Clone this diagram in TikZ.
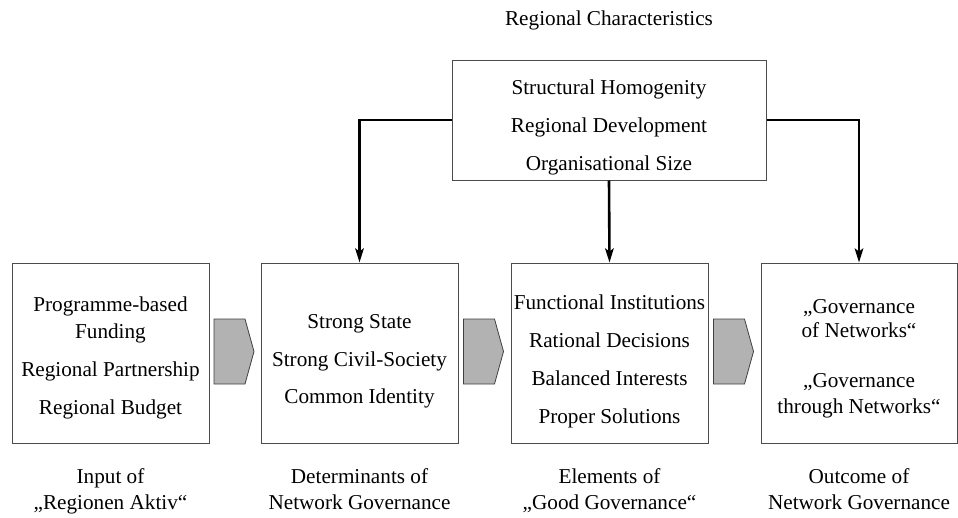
\documentclass[tikz,border=0pt]{standalone}
\usepackage{fontspec}
\setmainfont{Liberation Serif}
\usetikzlibrary{arrows.meta}
\begin{document}
\begin{tikzpicture}[x=1pt,y=-1pt,
  box/.style={draw=black!70, line width=1pt, minimum width=197pt, minimum height=180pt, inner sep=0pt},
  txt/.style={anchor=base, inner sep=0pt, font=\fontsize{21.2}{25}\selectfont},
  conn/.style={draw=black, line width=2.6pt, -{Stealth[length=14pt,width=8.5pt,inset=3pt]}},
  chev/.style={draw=black!75, line width=0.8pt, fill=black!30, line join=miter}]
\fill[white] (0,0) rectangle (958,517);
\useasboundingbox (0,0) rectangle (958,517);

% boxes
\node[box, minimum width=314pt, minimum height=120pt] (top) at (609,120) {};
\node[box] (b1) at (110.5,353) {};
\node[box] (b2) at (359.5,353) {};
\node[box] (b3) at (609.5,353) {};
\node[box, minimum width=196pt] (b4) at (859,353) {};

% connectors
\draw[conn] (top.west) -| (b2.north);
\draw[conn] (top.south) -- (b3.north);
\draw[conn] (top.east) -| (b4.north);

% chevrons
\foreach \dx in {0,249.5,499.5}{
  \draw[chev] (214+\dx,319) -- (245+\dx,319) -- (254+\dx,351.5) -- (245+\dx,384) -- (214+\dx,384) -- cycle;
}

% texts
\node[txt] (rc) at (609,25) {Regional Characteristics};
\node[txt] (t1) at (609,94) {Structural Homogenity};
\node[txt] (t2) at (609,132) {Regional Development};
\node[txt] (t3) at (609,170) {Organisational Size};

\node[txt] (a1) at (110.5,311) {Programme-based};
\node[txt] (a2) at (110.5,338) {Funding};
\node[txt] (a3) at (110.5,376) {Regional Partnership};
\node[txt] (a4) at (110.5,414) {Regional Budget};

\node[txt] (d1) at (359.5,328) {Strong State};
\node[txt] (d2) at (359.5,366) {Strong Civil-Society};
\node[txt] (d3) at (359.5,403) {Common Identity};

\node[txt] (e1) at (609.5,309) {Functional Institutions};
\node[txt] (e2) at (609.5,347) {Rational Decisions};
\node[txt] (e3) at (609.5,385) {Balanced Interests};
\node[txt] (e4) at (609.5,423) {Proper Solutions};

\node[txt] (o1) at (859,313) {„Governance};
\node[txt] (o2) at (859,337) {of Networks“};
\node[txt] (o3) at (859,387) {„Governance};
\node[txt] (o4) at (859,413) {through Networks“};

\node[txt] (l1a) at (110.5,483) {Input of};
\node[txt] (l1b) at (110.5,509) {„Regionen Aktiv“};
\node[txt] (l2a) at (359.5,483) {Determinants of};
\node[txt] (l2b) at (359.5,509) {Network Governance};
\node[txt] (l3a) at (609.5,483) {Elements of};
\node[txt] (l3b) at (609.5,509) {„Good Governance“};
\node[txt] (l4a) at (859,483) {Outcome of};
\node[txt] (l4b) at (859,509) {Network Governance};
\end{tikzpicture}
\end{document}
